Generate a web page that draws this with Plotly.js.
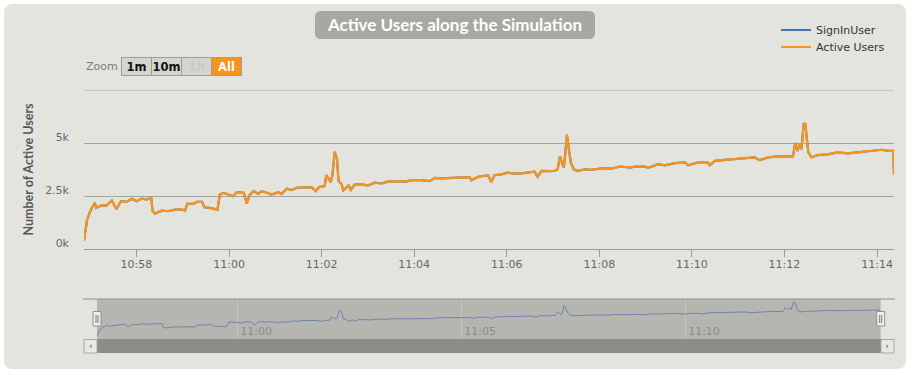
<!DOCTYPE html>
<html>
<head>
<meta charset="utf-8">
<script src="https://cdn.plot.ly/plotly-3.0.1.min.js"></script>
<style>
  html, body { margin: 0; padding: 0; background: #ffffff; }
  #panel { position: absolute; left: 4px; top: 4px; width: 902px; height: 365px;
           border-radius: 8px; background: #e4e4df; }
  #chart { position: absolute; left: 0; top: 0; width: 913px; height: 375px; }
</style>
</head>
<body>
<div id="panel"></div>
<div id="chart"></div>
<script>
// ---- data ----
const times = [
  "10:56:52","10:56:56","10:57:00","10:57:06","10:57:08","10:57:15","10:57:21","10:57:28","10:57:34","10:57:40",
  "10:57:47","10:57:54","10:58:00","10:58:07","10:58:13","10:58:19","10:58:21","10:58:24","10:58:33","10:58:41",
  "10:58:50","10:58:59","10:59:03","10:59:06","10:59:14","10:59:18","10:59:25","10:59:28","10:59:35","10:59:42",
  "10:59:45","10:59:48","10:59:53","11:00:05","11:00:10","11:00:19","11:00:23","11:00:27","11:00:32","11:00:38",
  "11:00:42","11:00:49","11:00:55","11:01:04","11:01:08","11:01:15","11:01:21","11:01:28","11:01:39","11:01:47",
  "11:01:52","11:01:57","11:02:04","11:02:06","11:02:09","11:02:12","11:02:14","11:02:17","11:02:20","11:02:22",
  "11:02:26","11:02:28","11:02:35","11:02:38","11:02:43","11:02:47","11:02:52","11:03:00","11:03:09","11:03:18",
  "11:03:26","11:03:39","11:03:48","11:03:57","11:04:09","11:04:20","11:04:27","11:04:35","11:04:53","11:05:01",
  "11:05:12","11:05:14","11:05:23","11:05:36","11:05:40","11:05:44","11:05:53","11:06:01","11:06:10","11:06:19",
  "11:06:28","11:06:36","11:06:40","11:06:45","11:06:54","11:07:02","11:07:06","11:07:09","11:07:12","11:07:14",
  "11:07:16","11:07:18","11:07:20","11:07:23","11:07:27","11:07:32","11:07:41","11:07:50","11:08:03","11:08:16",
  "11:08:27","11:08:41","11:08:46","11:08:59","11:09:03","11:09:16","11:09:25","11:09:38","11:09:51","11:09:55",
  "11:10:08","11:10:21","11:10:23","11:10:30","11:10:43","11:10:56","11:11:08","11:11:21","11:11:28","11:11:39",
  "11:11:52","11:12:05","11:12:11","11:12:14","11:12:17","11:12:20","11:12:22","11:12:25","11:12:27","11:12:30",
  "11:12:31","11:12:35","11:12:43","11:12:56","11:13:09","11:13:22","11:13:40","11:13:53","11:14:06","11:14:14",
  "11:14:21","11:14:22"
];
const activeUsers = [
  400,1380,1780,2180,1940,2060,2050,2290,1890,2250,
  2220,2370,2250,2380,2330,2430,1780,1670,1810,1780,
  1860,1860,1810,2130,2140,2220,2220,1970,1940,1900,
  1860,2570,2650,2490,2680,2650,2140,2570,2730,2600,
  2730,2650,2570,2680,2600,2840,2780,2890,2920,2920,
  2730,2920,2970,3480,3320,3160,3480,4580,4240,3200,
  3050,2760,3000,2790,3050,3050,3050,3000,3130,3090,
  3180,3200,3180,3250,3250,3200,3350,3330,3350,3370,
  3390,3240,3410,3480,3160,3480,3520,3600,3560,3570,
  3630,3650,3410,3680,3670,3680,3760,4370,4000,3840,
  4560,5390,4870,4080,3760,3680,3760,3730,3810,3790,
  3890,3840,3890,3890,3820,4000,3950,4050,4080,3950,
  4080,4080,3950,4160,4200,4240,4270,4320,4190,4320,
  4370,4390,4370,5000,4630,4980,4710,5900,5900,4870,
  4560,4320,4430,4460,4560,4510,4580,4630,4680,4630,
  4630,3520
];
const signInUsers = activeUsers.slice();
const seriesNames = ["SignInUser", "Active Users"];
const yTickVals = [0, 2500, 5000];
const yTickText = ["0k", "2.5k", "5k"];
const yTopGrid = 7500;
const zoomButtons = ["1m", "10m", "1h", "All"];

// ---- geometry helpers (pixels -> paper) ----
const W = 913, H = 375, ML = 84, MR = 19, MT = 90, MB = 36;
const PW = W - ML - MR, PH = H - MT - MB;
const X = px => (px - ML) / PW;
const Y = py => (H - MB - py) / PH;

const day = "2024-01-01 ";
const xs = times.map(t => day + t);
const xRange = [day + "10:56:52", day + "11:14:22"];

function roundRect(x0, y0, x1, y1, r) {
  const p = (a, b) => X(a) + "," + Y(b);
  return "M" + p(x0 + r, y0) + " L" + p(x1 - r, y0) + " Q" + p(x1, y0) + " " + p(x1, y0 + r) +
         " L" + p(x1, y1 - r) + " Q" + p(x1, y1) + " " + p(x1 - r, y1) +
         " L" + p(x0 + r, y1) + " Q" + p(x0, y1) + " " + p(x0, y1 - r) +
         " L" + p(x0, y0 + r) + " Q" + p(x0, y0) + " " + p(x0 + r, y0) + " Z";
}
function tri(pts) {
  return "M" + pts.map(q => X(q[0]) + "," + Y(q[1])).join(" L") + " Z";
}

const LBL = "DejaVu Sans";
const traces = [
  { x: xs, y: signInUsers, name: seriesNames[0], type: "scatter", mode: "lines",
    line: { color: "#4572a7", width: 2.2 }, xaxis: "x", yaxis: "y", legend: "legend" },
  { x: xs, y: activeUsers, name: seriesNames[1], type: "scatter", mode: "lines",
    line: { color: "#f7941d", width: 2.2 }, xaxis: "x", yaxis: "y", legend: "legend2" },
  { x: xs, y: signInUsers, name: seriesNames[0] + " (navigator)", type: "scatter", mode: "lines",
    line: { color: "#6d84ad", width: 1 }, xaxis: "x2", yaxis: "y2", showlegend: false }
];

const shapes = [
  // title box
  { type: "path", xref: "paper", yref: "paper", path: roundRect(315, 11, 595, 39, 6),
    fillcolor: "#a8a8a0", line: { width: 0 }, layer: "below" },
  // top grid line of the main plot (7.5k, unlabeled)
  { type: "line", xref: "x domain", yref: "y", x0: 0, x1: 1, y0: yTopGrid, y1: yTopGrid,
    line: { color: "#a3a3a0", width: 1 }, layer: "below" },
  // navigator mask
  { type: "rect", xref: "x2 domain", yref: "y2 domain", x0: 0, x1: 1, y0: 0, y1: 1,
    fillcolor: "#b6b6b1", line: { width: 0 }, layer: "below" },
  // navigator top outline
  { type: "line", xref: "paper", yref: "paper", x0: X(83), x1: X(895), y0: Y(299), y1: Y(299),
    line: { color: "#8f8f8a", width: 1 } },
  // scrollbar track
  { type: "rect", xref: "paper", yref: "paper", x0: X(97), x1: X(881), y0: Y(339), y1: Y(353),
    fillcolor: "#8d8d88", line: { width: 0 } },
  // scrollbar buttons
  { type: "rect", xref: "paper", yref: "paper", x0: X(84), x1: X(97), y0: Y(339.5), y1: Y(353),
    fillcolor: "#e9e9e4", line: { color: "#a9a9a4", width: 1 } },
  { type: "rect", xref: "paper", yref: "paper", x0: X(881), x1: X(894), y0: Y(339.5), y1: Y(353),
    fillcolor: "#e9e9e4", line: { color: "#a9a9a4", width: 1 } },
  { type: "path", xref: "paper", yref: "paper", path: tri([[89.5, 346.3], [91.5, 344.3], [91.5, 348.3]]),
    fillcolor: "#777", line: { width: 0 } },
  { type: "path", xref: "paper", yref: "paper", path: tri([[888.5, 346.3], [886.5, 344.3], [886.5, 348.3]]),
    fillcolor: "#777", line: { width: 0 } },
  // navigator handles
  { type: "rect", xref: "paper", yref: "paper", x0: X(93), x1: X(101), y0: Y(311.5), y1: Y(326),
    fillcolor: "#efefea", line: { color: "#909090", width: 1 } },
  { type: "line", xref: "paper", yref: "paper", x0: X(96), x1: X(96), y0: Y(315), y1: Y(323),
    line: { color: "#777", width: 1 } },
  { type: "line", xref: "paper", yref: "paper", x0: X(98), x1: X(98), y0: Y(315), y1: Y(323),
    line: { color: "#777", width: 1 } },
  { type: "rect", xref: "paper", yref: "paper", x0: X(876.7), x1: X(884.7), y0: Y(311.5), y1: Y(326),
    fillcolor: "#efefea", line: { color: "#909090", width: 1 } },
  { type: "line", xref: "paper", yref: "paper", x0: X(879.7), x1: X(879.7), y0: Y(315), y1: Y(323),
    line: { color: "#777", width: 1 } },
  { type: "line", xref: "paper", yref: "paper", x0: X(881.7), x1: X(881.7), y0: Y(315), y1: Y(323),
    line: { color: "#777", width: 1 } }
];

const btnX = [136.3, 166.8, 196.7, 226.3];
const annotations = [
  { xref: "paper", yref: "paper", x: X(84), y: Y(66.5), xanchor: "left", yanchor: "middle",
    text: "Zoom", showarrow: false, font: { family: LBL, size: 11, color: "#7a7a7a" } }
].concat(zoomButtons.map((b, i) => ({
  xref: "paper", yref: "paper", x: X(btnX[i]), y: Y(67), xanchor: "center", yanchor: "middle",
  text: "<b>" + b + "</b>", showarrow: false, width: 29, height: 17, borderpad: 0, borderwidth: 1,
  bordercolor: "#9d9d98",
  bgcolor: b === "All" ? "#f7941d" : "#d5d5d0",
  font: { family: LBL, size: 11.5, color: b === "All" ? "#ffffff" : (b === "1h" ? "#cacac5" : "#111111") }
})));

const legendBase = { xanchor: "left", yanchor: "middle", bgcolor: "rgba(0,0,0,0)",
                     font: { family: LBL, size: 11, color: "#333" }, itemwidth: 30, borderwidth: 0 };

const layout = {
  width: W, height: H,
  margin: { l: ML, r: MR, t: MT, b: MB, pad: 0 },
  paper_bgcolor: "rgba(0,0,0,0)", plot_bgcolor: "rgba(0,0,0,0)",
  font: { family: LBL, color: "#666" },
  title: { text: "Active Users along the Simulation", xref: "container", yref: "container",
           x: 455 / W, y: 1 - 25 / H, xanchor: "center", yanchor: "middle",
           font: { family: "Lato", size: 17, weight: 700, color: "#ffffff" } },
  showlegend: true,
  legend: Object.assign({ x: X(776), y: Y(30) }, legendBase),
  legend2: Object.assign({ x: X(776), y: Y(47) }, legendBase),
  xaxis: { type: "date", domain: [0, 1], anchor: "y", range: xRange, tickformat: "%H:%M",
           tick0: day + "10:58:00", dtick: 120000, ticks: "outside", ticklen: 7, tickcolor: "#999",
           ticklabelstandoff: -2,
           showgrid: false, showline: true, linecolor: "#999", linewidth: 1, zeroline: false,
           tickfont: { family: LBL, size: 11, color: "#666" }, fixedrange: true },
  yaxis: { domain: [Y(249), 1], anchor: "x", range: [0, 7500], tickvals: yTickVals, ticktext: yTickText,
           showgrid: true, gridcolor: "#a3a3a0", gridwidth: 1, zeroline: false, showline: false, ticks: "",
           ticklabelshift: -6, ticklabelstandoff: 14,
           tickfont: { family: LBL, size: 11, color: "#666" },
           title: { text: "Number of Active Users", standoff: 8,
                    font: { family: "Lato", size: 12.5, weight: 700, color: "#555" } }, fixedrange: true },
  xaxis2: { type: "date", domain: [X(97), X(880.7)], anchor: "y2", range: xRange, tickformat: "%H:%M",
            tick0: day + "11:00:00", dtick: 300000, ticks: "", showgrid: true, gridcolor: "#c6c6c1",
            showline: false, zeroline: false, ticklabelposition: "inside right",
            ticklabelshift: 3, ticklabelstandoff: -4,
            tickfont: { family: LBL, size: 11, color: "#8a8a8a" }, fixedrange: true },
  yaxis2: { domain: [0, Y(299)], anchor: "x2", range: [-150, 6450], visible: false, fixedrange: true },
  shapes: shapes,
  annotations: annotations
};

Plotly.newPlot("chart", traces, layout, { displayModeBar: false, staticPlot: true });
</script>
</body>
</html>
